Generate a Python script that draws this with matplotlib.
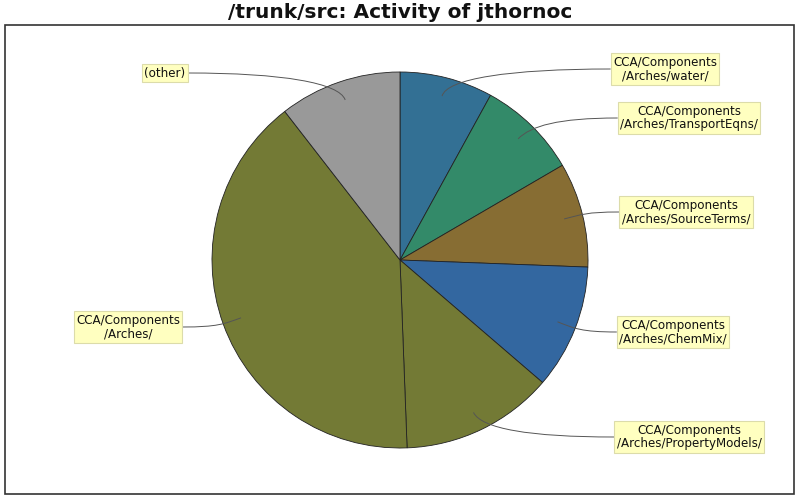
import numpy as np
import matplotlib
matplotlib.use('Agg')
import matplotlib.pyplot as plt
from matplotlib.path import Path
from matplotlib.patches import PathPatch, Rectangle

# 数据(从图上估读, 百分比)
labels = ['CCA/Components\n/Arches/water/',
          'CCA/Components\n/Arches/TransportEqns/',
          'CCA/Components\n/Arches/SourceTerms/',
          'CCA/Components\n/Arches/ChemMix/',
          'CCA/Components\n/Arches/PropertyModels/',
          'CCA/Components\n/Arches/',
          '(other)']
shares = [8.0, 8.6, 9.0, 10.7, 13.1, 40.1, 10.5]
colors = ['#337094', '#338a69', '#876d33', '#3367a0', '#737a35', '#737a35', '#999999']
# 标签框中心(像素, 原图坐标)
label_xy = [(665, 69), (689, 118), (686, 212), (673, 332), (689, 437), (128, 327), (165, 73)]

W, H = 800, 500
CX, CY, R = 400, 260, 188

fig = plt.figure(figsize=(8, 5), dpi=100)
ax = fig.add_axes([0, 0, 1, 1])
ax.set_xlim(0, W); ax.set_ylim(0, H)
ax.set_aspect('equal'); ax.axis('off')

ax.add_patch(Rectangle((5, H - 494), 789, 469, fill=False, ec='#333333', lw=1.2))
ax.text(400, H - 13, '/trunk/src: Activity of jthornoc', ha='center', va='center',
        fontsize=14.5, fontweight='bold', family='DejaVu Sans', color='#111111')

wedges, _ = ax.pie(shares, colors=colors, startangle=90, counterclock=False,
                   center=(CX, H - CY), radius=R, frame=True,
                   wedgeprops=dict(edgecolor='#222222', linewidth=0.6))
ax.set_xlim(0, W); ax.set_ylim(0, H); ax.axis('off')

for w, lab, (lx, ly) in zip(wedges, labels, label_xy):
    mid = np.radians((w.theta1 + w.theta2) / 2)
    ux, uy = np.cos(mid), np.sin(mid)
    ax0, ay0 = CX + 0.9 * R * ux, (H - CY) + 0.9 * R * uy
    t = ax.text(lx, H - ly, lab, ha='center', va='center', fontsize=8.6,
                family='DejaVu Sans', color='#111111', linespacing=1.05,
                bbox=dict(boxstyle='square,pad=0.2', fc='#ffffc0', ec='#dcdcaa', lw=0.8),
                zorder=5)
    # 连线终点: 标签框靠近饼图的一侧
    fig.canvas.draw()
    bb = t.get_bbox_patch().get_window_extent().transformed(ax.transData.inverted())
    if lx > CX:
        ex = bb.x0
        sgn = 1
    else:
        ex = bb.x1
        sgn = -1
    ey = H - ly
    d = abs(ex - ax0)
    verts = [(ax0, ay0), (ax0 + ux * 18, ay0 + uy * 18), (ex - sgn * d * 0.6, ey), (ex, ey)]
    p = Path(verts, [Path.MOVETO, Path.CURVE4, Path.CURVE4, Path.CURVE4])
    ax.add_patch(PathPatch(p, fc='none', ec='#555555', lw=0.7, zorder=4))

fig.savefig('out.png', dpi=100)
